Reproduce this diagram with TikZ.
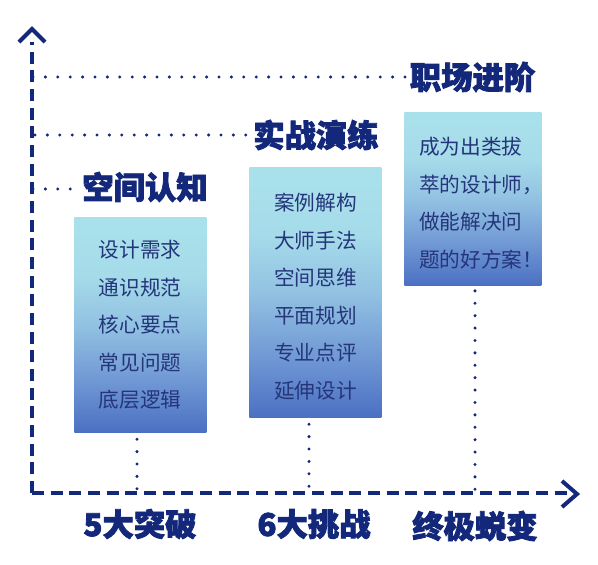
\documentclass[tikz,border=0pt]{standalone}
\usepackage{fontspec}
\newfontfamily\cjk{Noto Sans CJK SC}[BoldFeatures={FakeBold=2.6}]
\definecolor{navy}{HTML}{13287A}
\definecolor{boxtext}{HTML}{25357A}
\definecolor{sbot}{HTML}{4B70C3}
\definecolor{slow}{HTML}{7098D4}
\definecolor{smid}{HTML}{92C2E2}
\definecolor{supp}{HTML}{A6DCEA}
\definecolor{stop}{HTML}{A9E1EB}
\pgfdeclareverticalshading{boxshade}{100bp}{color(0bp)=(sbot); color(25bp)=(sbot); color(37bp)=(slow); color(50bp)=(smid); color(62bp)=(supp); color(75bp)=(stop); color(100bp)=(stop)}
\tikzset{
  axisline/.style={navy, line width=2.4pt, dash pattern=on 9pt off 5pt},
  chevron/.style={navy, line width=3pt, miter limit=10},
  dotline/.style={navy, line width=2.5pt, line cap=round, dash pattern=on 0pt off 9.3pt},
  stagebox/.style={rectangle, draw=none, shading=boxshade, anchor=north west, inner sep=0pt},
  boxlines/.style={text=boxtext, font=\cjk\fontsize{15.5}{28.1}\selectfont, inner sep=0pt},
  title/.style={text=navy, font=\cjk\bfseries\fontsize{23.5}{26}\selectfont, inner sep=0pt},
}
\begin{document}
\begin{tikzpicture}[x=0.75pt, y=-0.75pt]
\useasboundingbox (0,0) rectangle (598,564);
% axes
\coordinate (O) at (32,493);
\coordinate (ytop) at (32,42);
\coordinate (xend) at (572,493);
\coordinate (ytip) at (32,29);
\coordinate (xtip) at (577,494);
\draw[axisline] (O) -- (ytop);
\draw[axisline] (O) -- (xend);
\draw[chevron] ([shift={(-13,13)}]ytip) -- (ytip) -- ([shift={(13,13)}]ytip);
\draw[chevron] ([shift={(-15,-13)}]xtip) -- (xtip) -- ([shift={(-15,13)}]xtip);
% boxes
\node[stagebox, minimum width=99pt, minimum height=161.25pt] (b1) at (74,217) {};
\node[stagebox, minimum width=99pt, minimum height=187.5pt] (b2) at (249,167) {};
\node[stagebox, minimum width=102.75pt, minimum height=129.75pt] (b3) at (404,112) {};
\node[boxlines, align=center] (t1) at (140,325) {设计需求\\通识规范\\核心要点\\常见问题\\底层逻辑};
\node[boxlines, align=center] (t2) at (315.5,296.5) {案例解构\\大师手法\\空间思维\\平面规划\\专业点评\\延伸设计};
\node[boxlines, align=left, anchor=west] (t3) at (419,203) {成为出类拔\\萃的设计师，\\做能解决问\\题的好方案！};
% titles
\node[title] (h1) at (145,187) {空间认知};
\node[title] (h2) at (316,135) {实战演练};
\node[title] (h3) at (472.5,77) {职场进阶};
% bottom labels
\node[title] (l1) at (140,524) {5大突破};
\node[title] (l2) at (314,524) {6大挑战};
\node[title] (l3) at (475,526) {终极蜕变};
% dotted guides
\coordinate (y1) at (33,77);
\coordinate (y2) at (35,135);
\coordinate (y3) at (33,189);
\draw[dotline] (y1) -- ([xshift=-2pt]h3.west |- y1);
\draw[dotline] (y2) -- ([xshift=-2pt]h2.west |- y2);
\draw[dotline] (y3) -- ([xshift=-1pt]h1.west |- y3);
\coordinate (a1) at (137,493);
\coordinate (a2) at (309,493);
\coordinate (a3) at (475,490);
\draw[dotline] ([yshift=-5pt]b1.south -| a1) -- (a1);
\draw[dotline] ([yshift=-5pt]b2.south -| a2) -- (a2);
\draw[dotline] ([yshift=-4pt]b3.south -| a3) -- (a3);
\end{tikzpicture}
\end{document}
